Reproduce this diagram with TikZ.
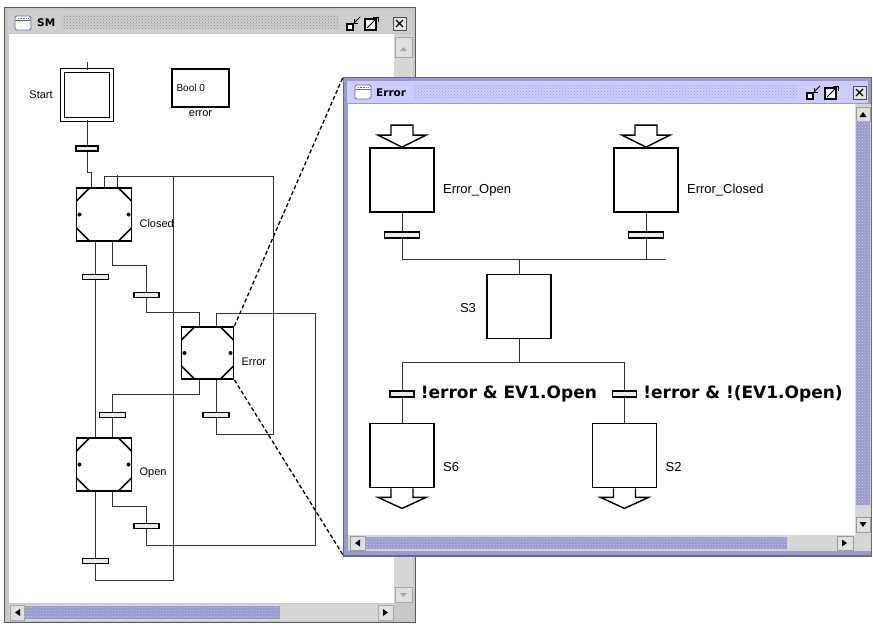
\documentclass[tikz,border=0pt]{standalone}
\usepackage{fontspec}
\setmainfont{Liberation Sans}
\newfontfamily\headfont{DejaVu Sans}
\usetikzlibrary{positioning, patterns}

\definecolor{framegray}{RGB}{200,200,200}
\definecolor{bargray}{RGB}{206,206,206}
\definecolor{trackgray}{RGB}{214,214,214}
\definecolor{lavlight}{RGB}{204,204,255}
\definecolor{lavmid}{RGB}{153,153,204}
\definecolor{lavdark}{RGB}{102,102,153}
\definecolor{wiregray}{RGB}{50,50,50}

\tikzset{
  winicon/.pic={
    \draw[lavdark, fill=white, rounded corners=1.5pt, line width=0.9pt] (0,0) rectangle (16,14);
    \draw[lavdark, line width=0.9pt] (0,4) -- (16,4);
    \draw[lavdark, densely dotted, line width=0.6pt] (3,2) -- (13,2);
  },
  winbtns/.pic={
    % iconify
    \draw[line width=1.2pt, fill=white] (0,8) rectangle (6,14);
    \draw[line width=0.9pt] (7,7) -- (13,1);
    \draw[line width=0.9pt] (7,3) -- (7,7) -- (11,7);
    % maximize
    \draw[line width=1.2pt, fill=white] (18,3) rectangle (29,14);
    \draw[line width=0.9pt] (20,12) -- (31,1);
    \draw[line width=0.9pt] (26,1) -- (31,1) -- (31,6);
    % close
    \draw[black!70, line width=1pt, fill=black!10] (46,1) rectangle (59,14);
    \draw[line width=1.3pt] (49,4) -- (56,11) (49,11) -- (56,4);
  },
}

\begin{document}
\begin{tikzpicture}[x=1pt, y=-1pt,
  font=\fontsize{11}{12}\selectfont,
  wire/.style={draw=wiregray, line width=0.8pt},
  zoomline/.style={draw=black, line width=1.3pt, dash pattern=on 4pt off 2.5pt},
  trans/.style={draw=black, line width=1.3pt, fill=black!8, inner sep=0pt,
                minimum width=26pt, minimum height=5pt},
  ttrans/.style={trans, minimum width=35pt, minimum height=6pt},
  strans/.style={trans, minimum width=24pt, minimum height=6pt},
  stepbox/.style={draw, line width=1.8pt, minimum width=64pt, minimum height=64pt, inner sep=0pt},
  mstep/.style={draw, line width=1.8pt, minimum width=55pt, minimum height=53pt, inner sep=0pt,
    path picture={
      \draw[line width=1.5pt]
        ([yshift=-13pt]path picture bounding box.north west) -- ([xshift=13pt]path picture bounding box.north west)
        ([yshift=-13pt]path picture bounding box.north east) -- ([xshift=-13pt]path picture bounding box.north east)
        ([yshift=13pt]path picture bounding box.south west) -- ([xshift=13pt]path picture bounding box.south west)
        ([yshift=13pt]path picture bounding box.south east) -- ([xshift=-13pt]path picture bounding box.south east);
      \fill ([xshift=3pt]path picture bounding box.west) circle (2pt)
            ([xshift=-3pt]path picture bounding box.east) circle (2pt);
    }},
  lbl/.style={inner sep=1pt},
  elbl/.style={inner sep=1pt, font=\fontsize{13}{14}\selectfont},
  cond/.style={inner sep=1pt, font=\headfont\bfseries\fontsize{17}{18}\selectfont},
  title/.style={inner sep=0pt, anchor=west, font=\headfont\bfseries\fontsize{10.5}{12}\selectfont},
  blk/.style={draw=black, line width=1.4pt, fill=white, line join=miter},
]
\useasboundingbox (0,0) rectangle (873,624);
\fill[white] (0,0) rectangle (873,624);

% --- SM window ---
\draw[black!65, line width=1.5pt, fill=framegray] (4.5,7.5) rectangle (415.5,622.5);
\fill[bargray] (8,10) rectangle (412,33);
\fill[pattern=crosshatch dots, pattern color=black!45] (62,15) rectangle (338,28);
\pic at (15,16) {winicon};
\node[title] (smtitle) at (37,23) {SM};
\pic at (347,16) {winbtns};
\fill[white] (9,34) rectangle (394,603);
\fill[trackgray] (394,34) rectangle (413,603);
\draw[black!35, fill=black!12] (395,37) rectangle (412,57);
\fill[black!35] (400,51) -- (407,51) -- (403.5,47) -- cycle;
\draw[black!35, fill=black!12] (395,587) rectangle (412,602);
\fill[black!35] (400,593) -- (407,593) -- (403.5,597) -- cycle;
\fill[trackgray] (9,604) rectangle (394,621);
\draw[black!35, fill=black!12] (10,605) rectangle (24,620);
\fill (15,612.5) -- (20,609) -- (20,616) -- cycle;
\fill[lavmid] (25,606) rectangle (280,619);
\fill[pattern=crosshatch dots, pattern color=lavlight] (25,606) rectangle (280,619);
\draw[black!35, fill=black!12] (378,605) rectangle (393,620);
\fill (388,612.5) -- (383,609) -- (383,616) -- cycle;

% --- SM chart ---
\node[draw, line width=1.3pt, double=white, double distance=3pt, minimum size=49pt, inner sep=0pt] (start) at (87,95) {};
\node[lbl, left=8pt of start] (startlbl) {Start};
\node[draw, line width=1.3pt, minimum width=57pt, minimum height=38pt, inner sep=0pt] (boolv) at (200.5,88) {};
\node[lbl, anchor=west, font=\fontsize{10}{11}\selectfont] (boolval) at ([xshift=4pt]boolv.west) {Bool 0};
\node[lbl, below=2pt of boolv] (boolname) {error};

\node[mstep] (closed) at (104,214.5) {};
\node[mstep, minimum width=52pt, minimum height=52pt] (errst) at (207.5,353) {};
\node[mstep] (openst) at (104,464.5) {};
\node[lbl, right=6pt of closed, yshift=-9pt] (closedlbl) {Closed};
\node[lbl, right=6pt of errst, yshift=-9pt] (errstlbl) {Error};
\node[lbl, right=6pt of openst, yshift=-8.5pt] (openstlbl) {Open};

\node[trans, minimum width=22pt] (tStart) at (87,148.5) {};
\node[trans] (tClOp) at (95.5,277) {};
\node[trans, minimum width=25pt] (tClEr) at (146.5,295) {};
\node[trans] (tErOp) at (112.5,415) {};
\node[trans] (tErCl) at (216,415) {};
\node[trans, minimum width=25pt] (tOpEr) at (146.5,526) {};
\node[trans] (tOpCl) at (95.5,561) {};
\coordinate (busA) at (173,176);
\coordinate (busB) at (273,176);
\coordinate (busC) at (315,313);

\draw[wire] (start.north) -- ++(0,-8);
\draw[wire] (start) -- (tStart);
\draw[wire] (tStart.south) -- ++(0,21) -| ([xshift=-13pt]closed.north);
\draw[wire] ([xshift=-8.5pt]closed.south) -- (tClOp) -- ([xshift=-8.5pt]openst.north);
\draw[wire] ([xshift=8.5pt]closed.south) -- ++(0,23) -| (tClEr);
\draw[wire] (tClEr) |- ([xshift=-8.5pt,yshift=14pt]errst.north) -- ([xshift=-8.5pt]errst.north);
\draw[wire] ([xshift=-8.5pt]errst.south) -- ++(0,14) -| (tErOp);
\draw[wire] (tErOp) -- ([xshift=8.5pt]openst.north);
\draw[wire] ([xshift=8.5pt]errst.south) -- (tErCl);
\draw[wire] (tErCl) -- ++(0,19) -| (busB) -| (closed.north);
\draw[wire] ([xshift=13pt]closed.north) -- ++(0,-12);
\draw[wire] ([xshift=-8.5pt]openst.south) -- (tOpCl);
\draw[wire] (tOpCl) -- ++(0,19) -| (busA);
\draw[wire] ([xshift=8.5pt]openst.south) -- ++(0,14) -| (tOpEr);
\draw[wire] (tOpEr) -- ++(0,19) -| (busC) -| ([xshift=8.5pt]errst.north);

% --- zoom lines ---
\coordinate (ewtop) at (343,77);
\coordinate (ewbot) at (343,555);
\draw[zoomline] (errst.north east) -- (ewtop);
\draw[zoomline] (errst.south east) -- (ewbot);

% --- Error window ---
\draw[lavdark, line width=1.2pt, fill=lavmid] (343.5,77.5) rectangle (871.5,556);
\fill[lavlight] (347,81) rectangle (868,103);
\fill[pattern=crosshatch dots, pattern color=lavmid] (413,85) rectangle (797,99);
\pic at (355,85) {winicon};
\node[title] (errtitle) at (376,93) {Error};
\pic at (807,85) {winbtns};
\fill[white] (348,104) rectangle (855,535);
\fill[trackgray] (855,104) rectangle (871,551);
\draw[black!40, fill=black!12] (856,107) rectangle (870,121);
\fill (859.5,117) -- (866.5,117) -- (863,112) -- cycle;
\fill[lavmid] (856,121) rectangle (870,505);
\fill[pattern=crosshatch dots, pattern color=lavlight] (856,121) rectangle (870,505);
\draw[black!40, fill=black!12] (856,517) rectangle (870,532);
\fill (859.5,522) -- (866.5,522) -- (863,527) -- cycle;
\fill[trackgray] (348,535) rectangle (855,551);
\draw[black!40, fill=black!12] (350,536) rectangle (365,550);
\fill (355,543) -- (360,539.5) -- (360,546.5) -- cycle;
\fill[lavmid] (365,537) rectangle (787,549);
\fill[pattern=crosshatch dots, pattern color=lavlight] (365,537) rectangle (787,549);
\draw[black!40, fill=black!12] (837,536) rectangle (853,550);
\fill (847,543) -- (842,539.5) -- (842,546.5) -- cycle;

% --- Error chart ---
\node[stepbox] (eo) at (402,180) {};
\node[stepbox] (ec) at (646,180) {};
\node[elbl, right=7pt of eo, yshift=-10pt] (eolbl) {Error\_Open};
\node[elbl, right=7pt of ec, yshift=-10pt] (eclbl) {Error\_Closed};
\node[ttrans] (tEO) at (402,235) {};
\node[ttrans] (tEC) at (646,235) {};
\coordinate (busR) at (666,259);
\node[stepbox] (s3) at (519,306.5) {};
\node[elbl, left=9pt of s3, yshift=-1.5pt] (s3lbl) {S3};
\node[strans] (tS6) at (402,394) {};
\node[strans] (tS2) at (624.5,394) {};
\node[cond, right=5pt of tS6] (c6) {!error \& EV1.Open};
\node[cond, right=5pt of tS2] (c2) {!error \& !(EV1.Open)};
\node[stepbox] (s6) at (402,455.5) {};
\node[stepbox] (s2) at (624.5,455.5) {};
\node[elbl, right=7pt of s6, yshift=-11.5pt] (s6lbl) {S6};
\node[elbl, right=7pt of s2, yshift=-11.5pt] (s2lbl) {S2};

\draw[wire] (eo) -- (tEO);
\draw[wire] (ec) -- (tEC);
\draw[wire] (tEO) |- (busR);
\draw[wire] (tEC) -- (tEC |- busR);
\draw[wire] (s3) -- (s3 |- busR);
\draw[wire] (s3.south) -- ++(0,23);
\draw[wire] (s6) -- (tS6) -- ++(0,-32) -| (tS2) -- (s2);

% in and out arrows
\foreach \st in {eo, ec}
  \draw[blk] (\st.north) -- ++(-24,-12) -- ++(13,0) -- ++(0,-10) -- ++(22,0) -- ++(0,10) -- ++(13,0) -- cycle;
\foreach \st in {s6, s2}
  \draw[blk] ([xshift=-11pt]\st.south) -- ++(0,9) -- ++(-13,0) -- ++(24,11) -- ++(24,-11) -- ++(-13,0) -- ++(0,-9);

\end{tikzpicture}
\end{document}
